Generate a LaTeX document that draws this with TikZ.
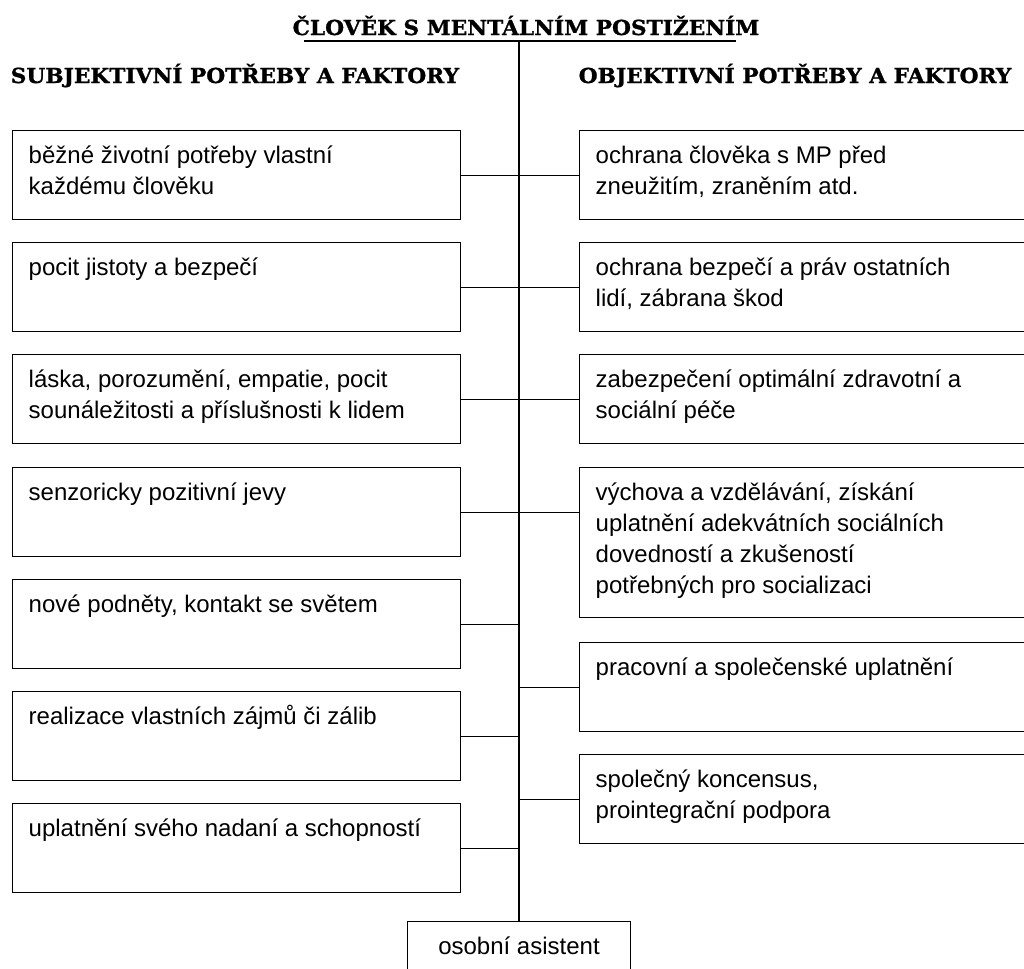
\documentclass[tikz,border=0pt]{standalone}
\usepackage{fontspec}
\setmainfont{Liberation Sans}
\newfontfamily\headfont[FakeStretch=1.05, FakeBold=1.2]{DejaVu Serif}
\usetikzlibrary{positioning}

\tikzset{
    headline/.style={inner sep=0pt, font=\headfont\bfseries\fontsize{15.5pt}{18pt}\selectfont},
    needbox/.style={draw, inner sep=0pt, anchor=north west, font=\fontsize{18pt}{23.25pt}\selectfont},
    assistbox/.style={draw, inner sep=0pt, anchor=north, font=\fontsize{18pt}{23.25pt}\selectfont}
}
% box text: width, height, lines
\newcommand{\boxtxt}[3]{\parbox[c][#2][t]{#1}{\raggedright\leftskip=12pt\rule{0pt}{24.75pt}#3}}

\begin{document}
\begin{tikzpicture}[x=0.75pt, y=-0.75pt, line width=1.1pt]
        \clip (0,0) rectangle (1024,968);

        \node[headline, anchor=base] (title) at (526,35) {ČLOVĚK S MENTÁLNÍM POSTIŽENÍM};
        \coordinate (ula) at (304,41);
        \coordinate (ulb) at (736,41);
        \coordinate (top) at (519,41);
        \node[headline, anchor=base west] (subj) at (10,83) {SUBJEKTIVNÍ POTŘEBY A FAKTORY};
        \node[headline, anchor=base west] (obj) at (578,83) {OBJEKTIVNÍ POTŘEBY A FAKTORY};

        \node[needbox] (s1) at (12,130) {\boxtxt{336pt}{66.75pt}{běžné životní potřeby vlastní\\každému člověku}};
        \node[needbox] (s2) at (12,242) {\boxtxt{336pt}{66.75pt}{pocit jistoty a bezpečí}};
        \node[needbox] (s3) at (12,354) {\boxtxt{336pt}{66.75pt}{láska, porozumění, empatie, pocit\\sounáležitosti a příslušnosti k lidem}};
        \node[needbox] (s4) at (12,467) {\boxtxt{336pt}{66.75pt}{senzoricky pozitivní jevy}};
        \node[needbox] (s5) at (12,579) {\boxtxt{336pt}{66.75pt}{nové podněty, kontakt se světem}};
        \node[needbox] (s6) at (12,691) {\boxtxt{336pt}{66.75pt}{realizace vlastních zájmů či zálib}};
        \node[needbox] (s7) at (12,803) {\boxtxt{336pt}{66.75pt}{uplatnění svého nadaní a schopností}};

        \node[needbox] (r1) at (579,130) {\boxtxt{360pt}{66.75pt}{ochrana člověka s MP před\\zneužitím, zraněním atd.}};
        \node[needbox] (r2) at (579,242) {\boxtxt{360pt}{66.75pt}{ochrana bezpečí a práv ostatních\\lidí, zábrana škod}};
        \node[needbox] (r3) at (579,354) {\boxtxt{360pt}{66.75pt}{zabezpečení optimální zdravotní a\\sociální péče}};
        \node[needbox] (r4) at (579,467) {\boxtxt{360pt}{112.5pt}{výchova a vzdělávání, získání\\uplatnění adekvátních sociálních\\dovedností a zkušeností\\potřebných pro socializaci}};
        \node[needbox] (r5) at (579,642) {\boxtxt{360pt}{66.75pt}{pracovní a společenské uplatnění}};
        \node[needbox] (r6) at (579,754) {\boxtxt{360pt}{66.75pt}{společný koncensus,\\prointegrační podpora}};

        \node[assistbox] (asist) at (519,921) {\parbox[c][60pt][t]{167.25pt}{\centering\rule{0pt}{24.5pt}osobní asistent}};

        \draw (ula) -- (ulb);
        \draw (top) -- (asist.north);
        \foreach \i in {1,2,3}
            \draw (s\i.east) -- (r\i.west);
        \draw (s4.east) -- (s4.east -| r4.west);
        \foreach \i in {5,6,7}
            \draw (s\i.east) -- (s\i.east -| top);
        \foreach \i in {5,6}
            \draw (r\i.west) -- (r\i.west -| top);
    \end{tikzpicture}
\end{document}
